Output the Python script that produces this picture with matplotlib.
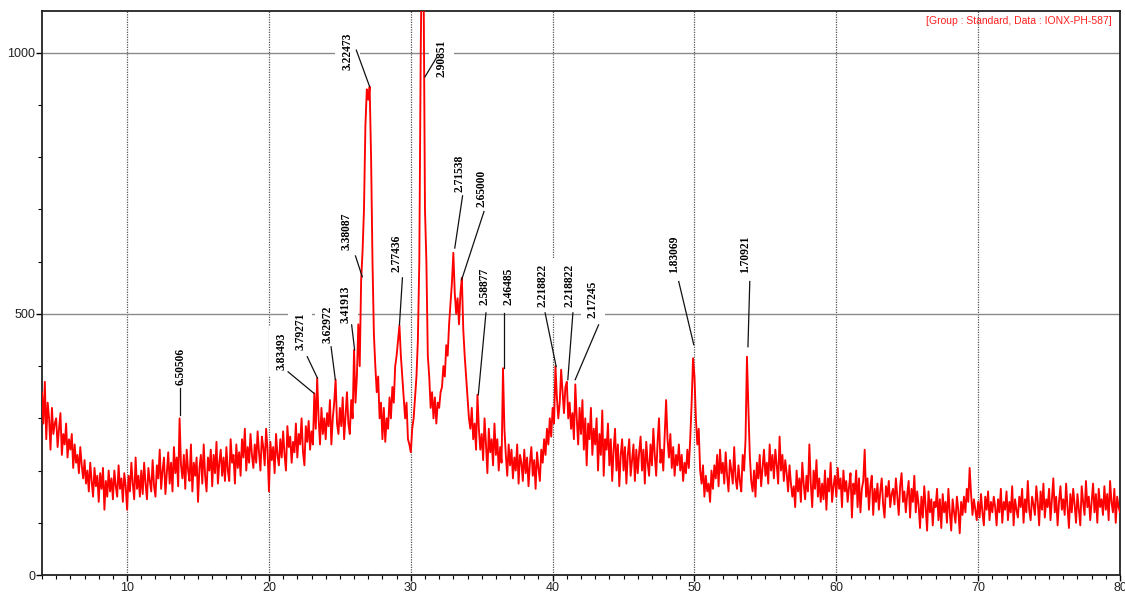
import matplotlib
matplotlib.use('Agg')
import matplotlib.pyplot as plt
import numpy as np

# 2-theta grid: 4.0 .. 80.0, step 0.1 (row = one degree)
two_theta_start = 4.0
two_theta_step = 0.1
counts_rows = [
    [350, 290, 370, 260, 330, 300, 240, 320, 270, 290],  # 4
    [300, 245, 280, 310, 230, 270, 250, 290, 225, 260],  # 5
    [240, 270, 205, 250, 215, 230, 195, 245, 210, 185],  # 6
    [220, 175, 200, 160, 215, 180, 150, 205, 170, 190],  # 7
    [140, 195, 165, 205, 125, 180, 150, 200, 160, 185],  # 8
    [145, 200, 170, 150, 210, 165, 185, 140, 195, 170],  # 9
    [125, 190, 160, 215, 175, 145, 225, 165, 190, 150],  # 10
    [200, 155, 215, 175, 145, 205, 180, 160, 220, 170],  # 11
    [150, 210, 185, 240, 165, 200, 225, 155, 195, 235],  # 12
    [175, 215, 160, 245, 195, 225, 170, 300, 210, 185],  # 13
    [230, 165, 240, 200, 180, 250, 160, 215, 190, 225],  # 14
    [140, 205, 230, 175, 250, 190, 160, 225, 200, 240],  # 15
    [170, 230, 195, 255, 175, 215, 240, 190, 225, 180],  # 16
    [245, 200, 180, 260, 215, 230, 175, 250, 205, 235],  # 17
    [190, 260, 225, 280, 200, 245, 215, 270, 230, 205],  # 18
    [250, 215, 275, 235, 200, 265, 245, 210, 280, 240],  # 19
    [160, 255, 220, 245, 195, 270, 230, 210, 260, 225],  # 20
    [275, 230, 200, 285, 245, 265, 215, 255, 235, 290],  # 21
    [225, 270, 250, 300, 235, 210, 285, 255, 295, 240],  # 22
    [275, 250, 348, 280, 377, 300, 250, 320, 270, 300],  # 23
    [260, 310, 285, 335, 250, 300, 330, 374, 290, 270],  # 24
    [320, 285, 340, 260, 305, 350, 290, 270, 335, 300],  # 25
    [431, 330, 380, 480, 400, 565, 620, 700, 860, 930],  # 26
    [910, 935, 800, 600, 460, 400, 350, 380, 300, 330],  # 27
    [260, 320, 255, 300, 280, 340, 300, 360, 330, 400],  # 28
    [420, 450, 478, 420, 380, 340, 300, 330, 260, 250],  # 29
    [235, 280, 300, 340, 380, 450, 600, 1000, 1250, 1150],  # 30
    [700, 600, 420, 380, 320, 350, 300, 340, 290, 330],  # 31
    [320, 350, 360, 400, 380, 440, 420, 480, 520, 560],  # 32
    [617, 540, 500, 530, 480, 540, 569, 470, 420, 380],  # 33
    [340, 300, 280, 320, 260, 290, 240, 345, 280, 240],  # 34
    [270, 220, 300, 250, 195, 280, 235, 260, 210, 290],  # 35
    [230, 260, 200, 245, 215, 396, 280, 230, 190, 250],  # 36
    [210, 240, 185, 225, 200, 250, 175, 230, 215, 180],  # 37
    [240, 195, 225, 170, 215, 245, 190, 220, 165, 235],  # 38
    [205, 180, 240, 215, 260, 230, 280, 250, 300, 265],  # 39
    [320, 290, 400, 340, 300, 330, 393, 350, 310, 360],  # 40
    [370, 300, 330, 280, 310, 260, 365, 300, 250, 320],  # 41
    [270, 335, 240, 300, 210, 290, 260, 320, 230, 280],  # 42
    [250, 300, 200, 270, 230, 315, 190, 260, 240, 290],  # 43
    [210, 260, 180, 240, 280, 200, 250, 170, 230, 260],  # 44
    [200, 245, 175, 230, 260, 190, 220, 250, 180, 240],  # 45
    [195, 235, 265, 200, 240, 175, 255, 215, 190, 250],  # 46
    [210, 280, 230, 190, 255, 300, 215, 240, 200, 265],  # 47
    [335, 260, 225, 270, 205, 245, 190, 230, 210, 250],  # 48
    [200, 230, 180, 215, 195, 240, 205, 260, 330, 415],  # 49
    [380, 300, 250, 280, 200, 175, 210, 150, 190, 160],  # 50
    [175, 140, 200, 165, 210, 185, 230, 170, 240, 195],  # 51
    [215, 175, 235, 190, 160, 220, 200, 175, 245, 185],  # 52
    [165, 210, 180, 160, 230, 200, 260, 418, 320, 230],  # 53
    [180, 160, 200, 150, 215, 185, 230, 170, 205, 240],  # 54
    [190, 215, 175, 250, 200, 230, 185, 240, 210, 175],  # 55
    [265, 200, 230, 180, 220, 195, 160, 210, 175, 150],  # 56
    [170, 130, 200, 160, 185, 140, 215, 175, 145, 190],  # 57
    [160, 250, 175, 130, 200, 165, 220, 150, 185, 140],  # 58
    [175, 145, 200, 125, 185, 160, 215, 140, 170, 190],  # 59
    [150, 205, 165, 185, 130, 200, 160, 180, 140, 170],  # 60
    [195, 110, 175, 155, 200, 130, 185, 120, 165, 180],  # 61
    [240, 150, 185, 125, 170, 190, 115, 165, 140, 175],  # 62
    [125, 160, 185, 135, 110, 170, 150, 180, 130, 155],  # 63
    [165, 135, 185, 150, 115, 170, 195, 140, 160, 120],  # 64
    [155, 180, 110, 165, 140, 190, 120, 160, 135, 90],  # 65
    [150, 110, 170, 130, 85, 160, 120, 145, 95, 140],  # 66
    [130, 165, 105, 145, 90, 155, 120, 140, 100, 165],  # 67
    [120, 85, 145, 120, 100, 150, 125, 80, 140, 115],  # 68
    [150, 120, 165, 140, 205, 155, 115, 145, 125, 105],  # 69
    [140, 110, 155, 120, 95, 150, 125, 160, 105, 140],  # 70
    [120, 150, 130, 95, 145, 120, 165, 100, 140, 125],  # 71
    [160, 105, 140, 120, 170, 95, 145, 125, 110, 150],  # 72
    [130, 165, 100, 145, 120, 180, 125, 105, 150, 135],  # 73
    [115, 170, 140, 95, 160, 125, 175, 110, 145, 130],  # 74
    [165, 105, 145, 185, 120, 150, 95, 140, 170, 125],  # 75
    [145, 115, 175, 130, 90, 155, 120, 165, 135, 100],  # 76
    [155, 125, 95, 170, 140, 115, 180, 130, 150, 105],  # 77
    [140, 175, 120, 155, 100, 165, 130, 145, 115, 170],  # 78
    [125, 155, 105, 180, 140, 120, 165, 100, 150, 130],  # 79
    [120],  # 80
]

# peak labels (d-spacing) and the 2-theta / counts where each leader line ends
peak_labels = ['6.50506', '3.83493', '3.79271', '3.62972', '3.41913', '3.38087',
               '3.22473', '2.77436', '2.90851', '2.71538', '2.65000', '2.58877',
               '2.46485', '2.218822', '2.218822', '2.17245', '1.83069', '1.70921']
peak_2theta = [13.75, 23.17, 23.42, 24.68, 26.04, 26.58, 27.1, 29.2, 31.0, 33.1,
               33.58, 34.76, 36.57, 40.25, 41.07, 41.59, 49.95, 53.77]
peak_tip = [306, 348, 377, 374, 431, 571, 935, 479, 954, 626, 565, 345, 396, 399,
            374, 374, 441, 437]

# label layout: text x, text bottom, leader line start (x, y)
label_x = [13.75, 20.9, 22.2, 24.13, 25.4, 25.45, 25.55, 28.99, 32.17, 33.42,
           35.0, 35.23, 36.88, 39.3, 41.19, 42.84, 48.54, 53.6]
label_y = [364, 393, 431, 444, 483, 623, 967, 580, 954, 734, 705, 517, 517, 513,
           513, 492, 578, 578]
line_x0 = [13.75, 21.35, 22.7, 24.38, 25.83, 26.1, 26.16, 29.41, 31.8, 33.65,
           35.16, 35.3, 36.57, 39.47, 41.43, 43.24, 48.89, 53.9]
line_y0 = [358, 389, 418, 437, 479, 611, 1005, 569, 990, 726, 696, 502, 502, 502,
           502, 479, 562, 562]

counts = np.array([v for row in counts_rows for v in row], dtype=float)
two_theta = two_theta_start + two_theta_step * np.arange(len(counts))

fig = plt.figure(figsize=(11.25, 5.93), dpi=100)
ax = fig.add_axes([42 / 1125, 18 / 593, 1078 / 1125, 564 / 593])

# grid
for gx in range(10, 80, 10):
    ax.axvline(gx, color='#555555', lw=0.9, ls=(0, (1, 1)), zorder=0)
for gy in (500, 1000):
    ax.axhline(gy, color='#8a8a8a', lw=1.0, zorder=0)

ax.plot(two_theta, counts, color='#ff0000', lw=1.35, zorder=3)

for i, lab in enumerate(peak_labels):
    ax.text(label_x[i], label_y[i], lab, rotation=90, ha='center', va='bottom',
            fontsize=8.3, family='Liberation Serif', fontweight='bold',
            bbox=dict(boxstyle='square,pad=0.55', facecolor='white', edgecolor='none'),
            zorder=2)
    ax.plot([line_x0[i], peak_2theta[i]], [line_y0[i], peak_tip[i]],
            color='#111111', lw=0.9, zorder=4)

ax.text(0.992, 0.992, '[Group : Standard, Data : IONX-PH-587]', transform=ax.transAxes,
        ha='right', va='top', color='#ff2020', fontsize=7.5, family='Liberation Sans',
        zorder=5)

ax.set_xlim(4, 80)
ax.set_ylim(0, 1080)
ax.set_xticks(np.arange(10, 81, 10))
ax.set_xticks(np.arange(4, 81, 1), minor=True)
ax.set_yticks([0, 500, 1000])
ax.set_yticks(np.arange(0, 1081, 100), minor=True)
ax.tick_params(which='major', direction='out', length=4, width=1, labelsize=9, pad=1)
ax.tick_params(which='minor', direction='out', length=3, width=0.8)
for lab in ax.get_xticklabels() + ax.get_yticklabels():
    lab.set_family('Liberation Sans')
    lab.set_color('#222222')
for sp in ax.spines.values():
    sp.set_linewidth(1.3)
    sp.set_color('#222222')

fig.savefig('out.png', dpi=100)
